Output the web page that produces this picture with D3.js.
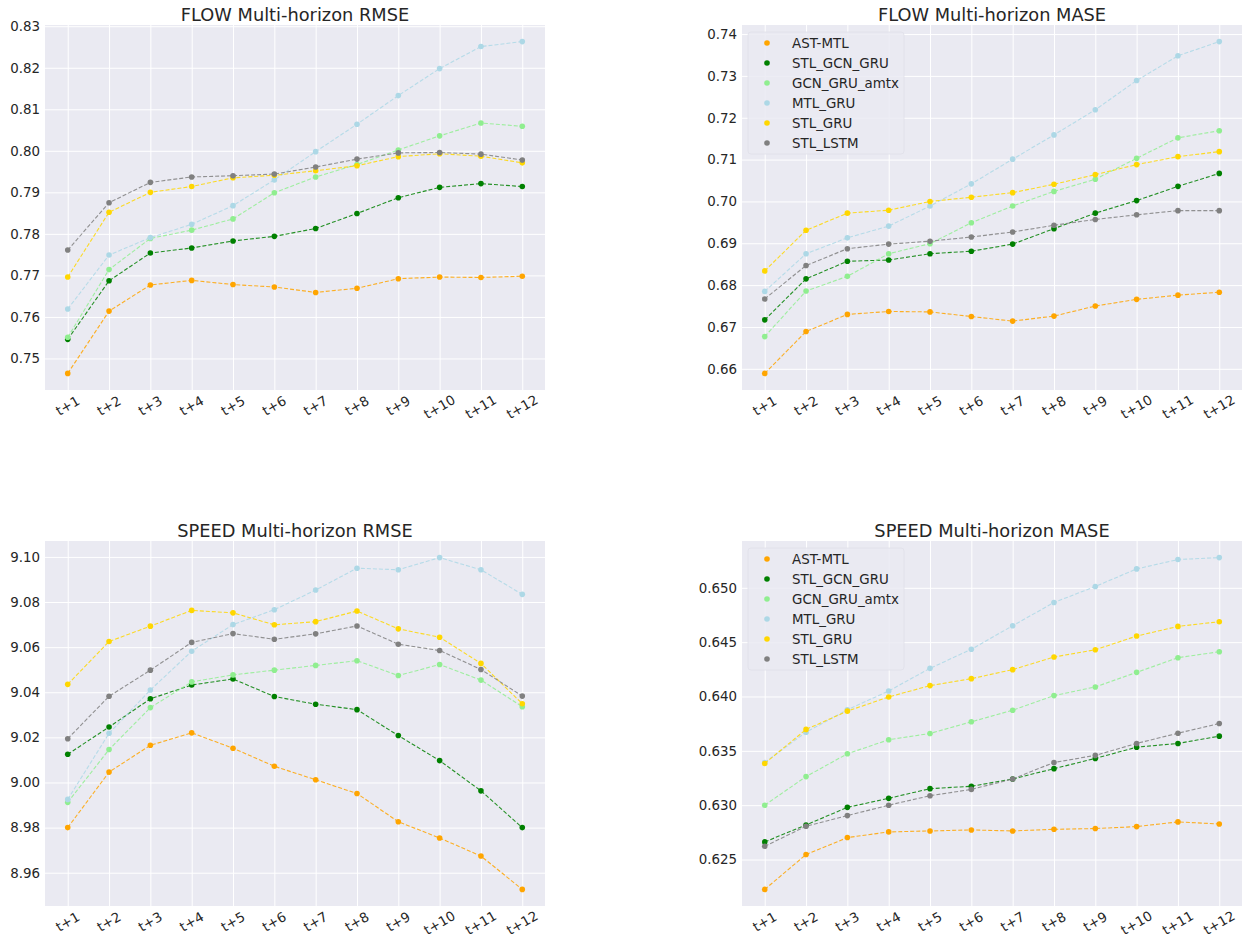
<!DOCTYPE html>
<html>
<head>
<meta charset="utf-8">
<script src="https://cdn.jsdelivr.net/npm/d3@7"></script>
<style>
  body { margin: 0; background: #fff; }
  text { font-family: 'DejaVu Sans', sans-serif; fill: #262626; }
</style>
</head>
<body>
<div id="chart"></div>
<script>
// horizons and models
var horizons = ['t+1', 't+2', 't+3', 't+4', 't+5', 't+6', 't+7', 't+8', 't+9', 't+10', 't+11', 't+12'];
var models = ['AST-MTL', 'STL_GCN_GRU', 'GCN_GRU_amtx', 'MTL_GRU', 'STL_GRU', 'STL_LSTM'];

// one row per model, in the order of `models`
var flowRmse = [
  [0.7464, 0.7614, 0.7677, 0.7688, 0.7678, 0.7672, 0.7659, 0.7669, 0.7692, 0.7696, 0.7695, 0.7698],
  [0.7546, 0.7687, 0.7754, 0.7766, 0.7783, 0.7794, 0.7813, 0.7849, 0.7887, 0.7912, 0.7921, 0.7914],
  [0.7551, 0.7714, 0.7789, 0.7809, 0.7836, 0.7899, 0.7937, 0.7967, 0.8002, 0.8036, 0.8067, 0.8059],
  [0.7619, 0.7749, 0.7791, 0.7823, 0.7868, 0.7930, 0.7998, 0.8064, 0.8133, 0.8198, 0.8251, 0.8263],
  [0.7696, 0.7852, 0.7900, 0.7914, 0.7935, 0.7941, 0.7952, 0.7964, 0.7986, 0.7993, 0.7987, 0.7971],
  [0.7761, 0.7875, 0.7924, 0.7937, 0.7940, 0.7944, 0.7961, 0.7980, 0.7995, 0.7996, 0.7992, 0.7978]
];
var flowMase = [
  [0.6589, 0.6689, 0.6730, 0.6737, 0.6736, 0.6725, 0.6714, 0.6726, 0.6750, 0.6766, 0.6776, 0.6783],
  [0.6717, 0.6815, 0.6857, 0.6860, 0.6875, 0.6881, 0.6898, 0.6935, 0.6972, 0.7002, 0.7036, 0.7067],
  [0.6677, 0.6786, 0.6821, 0.6875, 0.6899, 0.6949, 0.6989, 0.7024, 0.7053, 0.7103, 0.7152, 0.7169],
  [0.6785, 0.6875, 0.6913, 0.6941, 0.6989, 0.7042, 0.7101, 0.7159, 0.7219, 0.7289, 0.7348, 0.7382],
  [0.6834, 0.6931, 0.6972, 0.6979, 0.7000, 0.7010, 0.7021, 0.7041, 0.7064, 0.7088, 0.7107, 0.7119],
  [0.6767, 0.6847, 0.6887, 0.6898, 0.6905, 0.6915, 0.6927, 0.6943, 0.6957, 0.6968, 0.6978, 0.6978]
];
var speedRmse = [
  [8.9800, 9.0046, 9.0165, 9.0220, 9.0152, 9.0072, 9.0012, 8.9951, 8.9826, 8.9754, 8.9674, 8.9526],
  [9.0125, 9.0246, 9.0371, 9.0432, 9.0459, 9.0381, 9.0347, 9.0323, 9.0208, 9.0097, 8.9963, 8.9800],
  [8.9912, 9.0146, 9.0332, 9.0446, 9.0477, 9.0498, 9.0519, 9.0540, 9.0474, 9.0523, 9.0454, 9.0336],
  [8.9925, 9.0218, 9.0410, 9.0582, 9.0700, 9.0766, 9.0853, 9.0950, 9.0943, 9.0997, 9.0943, 9.0834],
  [9.0435, 9.0625, 9.0693, 9.0763, 9.0752, 9.0699, 9.0713, 9.0760, 9.0681, 9.0644, 9.0528, 9.0349],
  [9.0194, 9.0382, 9.0498, 9.0621, 9.0660, 9.0635, 9.0659, 9.0694, 9.0613, 9.0585, 9.0501, 9.0383]
];
var speedMase = [
  [0.62225, 0.62546, 0.62702, 0.62754, 0.62763, 0.62772, 0.62763, 0.62778, 0.62785, 0.62803, 0.62846, 0.62827],
  [0.62662, 0.62818, 0.62980, 0.63063, 0.63152, 0.63174, 0.63241, 0.63336, 0.63430, 0.63534, 0.63568, 0.63635],
  [0.63000, 0.63263, 0.63473, 0.63602, 0.63660, 0.63767, 0.63874, 0.64008, 0.64088, 0.64222, 0.64357, 0.64412],
  [0.63393, 0.63672, 0.63877, 0.64051, 0.64259, 0.64434, 0.64651, 0.64865, 0.65012, 0.65174, 0.65260, 0.65278],
  [0.63384, 0.63697, 0.63865, 0.63996, 0.64100, 0.64164, 0.64247, 0.64363, 0.64430, 0.64556, 0.64645, 0.64688],
  [0.62622, 0.62806, 0.62904, 0.63000, 0.63087, 0.63145, 0.63241, 0.63393, 0.63458, 0.63568, 0.63662, 0.63751]
];

// y tick labels
var flowRmseTicks = [0.75, 0.76, 0.77, 0.78, 0.79, 0.80, 0.81, 0.82, 0.83];
var flowMaseTicks = [0.66, 0.67, 0.68, 0.69, 0.70, 0.71, 0.72, 0.73, 0.74];
var speedRmseTicks = [8.96, 8.98, 9.00, 9.02, 9.04, 9.06, 9.08, 9.10];
var speedMaseTicks = [0.625, 0.630, 0.635, 0.640, 0.645, 0.650];

var colors = ['orange', 'green', 'lightgreen', 'lightblue', 'gold', 'gray'];

var width = 1243;
var height = 937;
var fontSize = '13.4px';

var svg = d3.select('#chart').append('svg')
  .attr('width', width)
  .attr('height', height);

drawPanel({ x: 45, y: 25, w: 500, h: 365, title: 'FLOW Multi-horizon RMSE', data: flowRmse, ticks: flowRmseTicks, fmt: '.2f', legend: false });
drawPanel({ x: 742, y: 25, w: 500, h: 365, title: 'FLOW Multi-horizon MASE', data: flowMase, ticks: flowMaseTicks, fmt: '.2f', legend: true });
drawPanel({ x: 45, y: 541, w: 500, h: 365, title: 'SPEED Multi-horizon RMSE', data: speedRmse, ticks: speedRmseTicks, fmt: '.2f', legend: false });
drawPanel({ x: 742, y: 541, w: 500, h: 365, title: 'SPEED Multi-horizon MASE', data: speedMase, ticks: speedMaseTicks, fmt: '.3f', legend: true });

function drawPanel(p) {
  var g = svg.append('g').attr('transform', 'translate(' + p.x + ',' + p.y + ')');

  var x = d3.scalePoint().domain(horizons).range([0, p.w]).padding(0.55);

  // matplotlib style 5% margins
  var all = d3.merge(p.data);
  var lo = d3.min(all), hi = d3.max(all);
  var pad = (hi - lo) * 0.05;
  var y = d3.scaleLinear().domain([lo - pad, hi + pad]).range([p.h, 0]);

  g.append('rect')
    .attr('width', p.w)
    .attr('height', p.h)
    .attr('fill', '#eaeaf2');

  // grid + y labels
  var yAxis = g.append('g')
    .call(d3.axisLeft(y).tickValues(p.ticks).tickFormat(d3.format(p.fmt)).tickSize(-p.w).tickPadding(5));
  yAxis.select('.domain').remove();
  yAxis.selectAll('line').attr('stroke', '#fff').attr('stroke-width', 1);
  yAxis.selectAll('text').style('font-size', fontSize).attr('fill', '#262626');

  var xAxis = g.append('g')
    .attr('transform', 'translate(0,' + p.h + ')')
    .call(d3.axisBottom(x).tickSize(-p.h).tickFormat(''));
  xAxis.select('.domain').remove();
  xAxis.selectAll('line').attr('stroke', '#fff').attr('stroke-width', 1);

  // rotated x labels, centred under each tick
  g.selectAll('text.xlab')
    .data(horizons)
    .enter()
    .append('text')
    .attr('class', 'xlab')
    .style('font-size', fontSize)
    .attr('text-anchor', 'middle')
    .attr('dominant-baseline', 'central')
    .text(function (d) { return d; })
    .each(function (d) {
      var len = this.getComputedTextLength();
      var cy = p.h + 12 + len * 0.15;
      d3.select(this).attr('transform', 'translate(' + x(d) + ',' + cy + ') rotate(-30)');
    });

  g.append('text')
    .attr('x', p.w / 2)
    .attr('y', -4)
    .attr('text-anchor', 'middle')
    .style('font-size', '17.8px')
    .text(p.title);

  var line = d3.line()
    .x(function (d, i) { return x(horizons[i]); })
    .y(function (d) { return y(d); });

  p.data.forEach(function (row, k) {
    g.append('path')
      .datum(row)
      .attr('fill', 'none')
      .attr('stroke', colors[k])
      .attr('stroke-width', 1.1)
      .attr('stroke-dasharray', '4,2')
      .attr('opacity', 0.85)
      .attr('d', line);
    g.selectAll('circle.m' + k)
      .data(row)
      .enter()
      .append('circle')
      .attr('class', 'm' + k)
      .attr('cx', function (d, i) { return x(horizons[i]); })
      .attr('cy', function (d) { return y(d); })
      .attr('r', 2.8)
      .attr('fill', colors[k]);
  });

  if (p.legend) {
    var lg = g.append('g').attr('transform', 'translate(6,7)');
    lg.append('rect')
      .attr('width', 156)
      .attr('height', 122)
      .attr('rx', 3)
      .attr('fill', '#eaeaf2')
      .attr('fill-opacity', 0.85)
      .attr('stroke', '#e0e0e8')
      .attr('stroke-width', 0.8);
    models.forEach(function (m, k) {
      var row = lg.append('g').attr('transform', 'translate(0,' + (11 + k * 20) + ')');
      row.append('circle')
        .attr('cx', 19)
        .attr('cy', 0)
        .attr('r', 2.8)
        .attr('fill', colors[k]);
      row.append('text')
        .attr('x', 44)
        .attr('y', 0)
        .attr('dominant-baseline', 'central')
        .style('font-size', fontSize)
        .text(m);
    });
  }
}
</script>
</body>
</html>
